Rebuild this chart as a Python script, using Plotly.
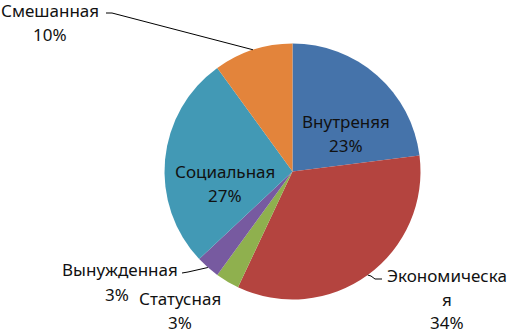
import math
import plotly.graph_objects as go

labels = ["Внутреняя", "Экономическая", "Статусная", "Вынужденная", "Социальная", "Смешанная"]
values = [23, 34, 3, 3, 27, 10]
colors = ["#4573AA", "#B4443F", "#8FB04E", "#775AA0", "#4299B5", "#E3843B"]

W, H = 511, 334
cx, cy, R = 292.5, 171.5, 128

fig = go.Figure(go.Pie(
    labels=labels, values=values, sort=False, direction="clockwise", rotation=0,
    marker=dict(colors=colors, line=dict(width=0)),
    textinfo="none", hoverinfo="label+percent", showlegend=False,
    domain=dict(x=[(cx - R) / W, (cx + R) / W], y=[1 - (cy + R) / H, 1 - (cy - R) / H]),
))

total = sum(values)
pcts = [f"{round(v * 100 / total)}%" for v in values]

# label layout (pixel centres) : name lines, percent line
label_pos = {
    "Внутреняя": [("Внутреняя", 346, 121), (None, 346, 145)],
    "Экономическая": [("Экономическа", 447, 275), ("я", 447, 299), (None, 447, 322)],
    "Статусная": [("Статусная", 180, 298), (None, 180, 322)],
    "Вынужденная": [("Вынужденная", 120, 269), (None, 117, 294)],
    "Социальная": [("Социальная", 225, 171), (None, 225, 195)],
    "Смешанная": [("Смешанная", 50, 11), (None, 50, 34)],
}

def px(x):
    return x / W

def py(y):
    return 1 - y / H

annotations = []
for i, lab in enumerate(labels):
    for txt, x, y in label_pos[lab]:
        annotations.append(dict(
            text=txt if txt is not None else pcts[i], x=px(x), y=py(y),
            xref="paper", yref="paper", showarrow=False, xanchor="center", yanchor="middle",
            font=dict(family="Noto Sans", size=17, color="#111111"),
        ))

# leader lines: tip at slice mid angle on pie edge
cum = 0
tips = {}
for lab, v in zip(labels, values):
    mid = (cum + v / 2) / total * 2 * math.pi
    tips[lab] = (cx + R * math.sin(mid), cy - R * math.cos(mid))
    cum += v

leaders = {
    "Смешанная": [(106, 13), (112, 13)],
    "Вынужденная": [(182, 273), (188, 272)],
    "Экономическая": [(382, 279), (375, 279), (371, 276)],
}
shapes = []
for lab, pts in leaders.items():
    tx, ty = tips[lab]
    allpts = pts + [(tx, ty)]
    path = "M " + " L ".join(f"{px(x)},{py(y)}" for x, y in allpts)
    shapes.append(dict(type="path", path=path, xref="paper", yref="paper",
                       line=dict(color="#000000", width=1)))

fig.update_layout(
    width=W, height=H, margin=dict(l=0, r=0, t=0, b=0),
    paper_bgcolor="white", plot_bgcolor="white",
    annotations=annotations, shapes=shapes,
)
fig.write_html("out.html", config={"displayModeBar": False},
               post_script="document.body.style.margin='0';document.body.style.padding='0';")
